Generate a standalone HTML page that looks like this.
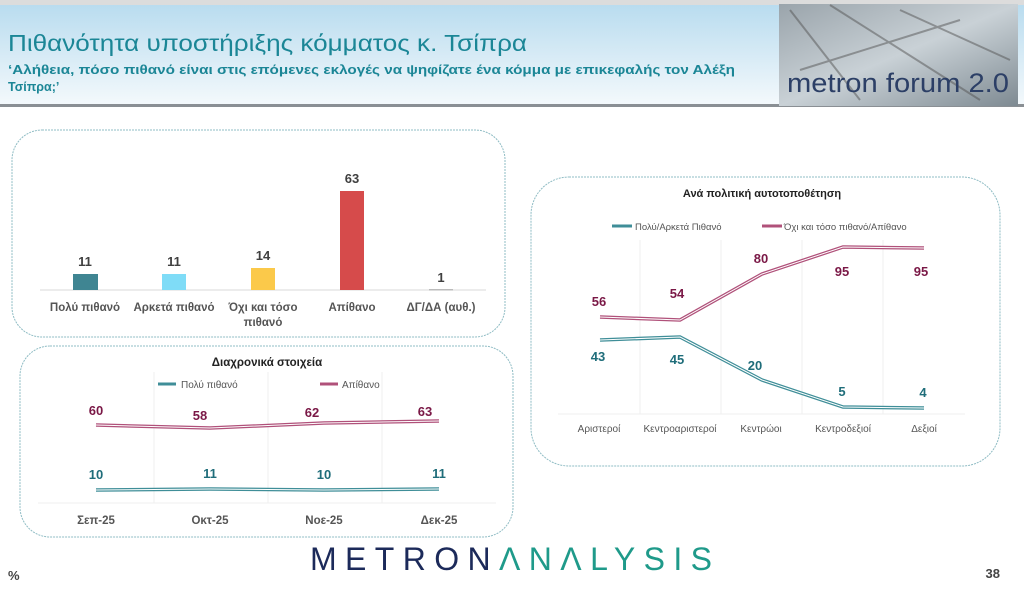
<!DOCTYPE html>
<html><head><meta charset="utf-8"><style>
body{margin:0;width:1024px;height:586px;overflow:hidden;background:#fff;font-family:"Liberation Sans","DejaVu Sans",sans-serif}
</style></head><body>
<svg width="1024" height="586" xmlns="http://www.w3.org/2000/svg" font-family="Liberation Sans, DejaVu Sans, sans-serif">
<defs>
<linearGradient id="hg" x1="0" y1="0" x2="0" y2="1"><stop offset="0" stop-color="#b9dcef"/><stop offset="1" stop-color="#f4f9fc"/></linearGradient>
<linearGradient id="ig" x1="0" y1="0" x2="1" y2="1"><stop offset="0" stop-color="#9aa4ab"/><stop offset="0.5" stop-color="#c9d1d6"/><stop offset="1" stop-color="#7e8a92"/></linearGradient>
</defs>
<rect x="0" y="0" width="1024" height="5" fill="#dcdcdc"/>
<rect x="0" y="5" width="1024" height="100" fill="url(#hg)"/>
<rect x="0" y="104" width="1024" height="3" fill="#8a8f94"/>
<rect x="779" y="4" width="239" height="102" fill="url(#ig)"/>
<path d="M790 10 L860 100 M830 5 L980 100 M900 10 L1010 60 M800 70 L960 20" stroke="#555" stroke-width="2" opacity="0.5"/>
<text x="787" y="92" font-size="27" fill="#2c3f66" textLength="222" lengthAdjust="spacingAndGlyphs">metron forum 2.0</text>
<text x="8" y="51" font-size="23" fill="#1b8696" textLength="519" lengthAdjust="spacingAndGlyphs">Πιθανότητα υποστήριξης κόμματος κ. Τσίπρα</text>
<text x="8" y="74" font-size="12.5" font-weight="bold" fill="#1b8696" textLength="727" lengthAdjust="spacingAndGlyphs">‘Αλήθεια, πόσο πιθανό είναι στις επόμενες εκλογές να ψηφίζατε ένα κόμμα με επικεφαλής τον Αλέξη</text>
<text x="8" y="91" font-size="12.5" font-weight="bold" fill="#1b8696">Τσίπρα;’</text>

<rect x="12" y="130" width="493" height="207" rx="30" fill="none" stroke="#8fbcc4" stroke-dasharray="2 1"/>
<line x1="40" y1="290" x2="486" y2="290" stroke="#d9d9d9"/>
<g font-weight="bold" font-size="13" fill="#404040" text-anchor="middle">
<rect x="73" y="274" width="25" height="16" fill="#3f8592"/><text x="85" y="266">11</text>
<rect x="162" y="274" width="24" height="16" fill="#7fdcf7"/><text x="174" y="266">11</text>
<rect x="251" y="268" width="24" height="22" fill="#fbc94a"/><text x="263" y="260">14</text>
<rect x="340" y="191" width="24" height="99" fill="#d64b4b"/><text x="352" y="183">63</text>
<rect x="429" y="289" width="24" height="1.5" fill="#bbb"/><text x="441" y="282">1</text>
<g font-size="11.5" fill="#555"><text x="85" y="311">Πολύ πιθανό</text><text x="174" y="311">Αρκετά πιθανό</text><text x="263" y="311">Όχι και τόσο</text><text x="263" y="326">πιθανό</text><text x="352" y="311">Απίθανο</text><text x="441" y="311">ΔΓ/ΔΑ (αυθ.)</text></g>
</g>

<rect x="20" y="346" width="493" height="191" rx="30" fill="none" stroke="#8fbcc4" stroke-dasharray="2 1"/>
<g stroke="#efefef"><line x1="154" y1="372" x2="154" y2="503"/><line x1="268" y1="372" x2="268" y2="503"/><line x1="382" y1="372" x2="382" y2="503"/><line x1="38" y1="503" x2="496" y2="503"/></g>
<text x="267" y="366" font-size="11.5" font-weight="bold" fill="#222" text-anchor="middle">Διαχρονικά στοιχεία</text>
<line x1="158" y1="384" x2="176" y2="384" stroke="#3f8e98" stroke-width="3"/><text x="181" y="388" font-size="10" fill="#555">Πολύ πιθανό</text>
<line x1="320" y1="384" x2="338" y2="384" stroke="#b0517a" stroke-width="3"/><text x="342" y="388" font-size="10" fill="#555">Απίθανο</text>
<polyline points="96,425 210,428 324,423 439,421" fill="none" stroke="#b0517a" stroke-width="3.5"/>
<polyline points="96,425 210,428 324,423 439,421" fill="none" stroke="#fff" stroke-width="1"/>
<polyline points="96,490 210,489 324,490 439,489" fill="none" stroke="#3f8e98" stroke-width="3.5"/>
<polyline points="96,490 210,489 324,490 439,489" fill="none" stroke="#fff" stroke-width="1"/>
<g font-size="13" font-weight="bold" text-anchor="middle">
<g fill="#7a1846"><text x="96" y="415">60</text><text x="200" y="420">58</text><text x="312" y="417">62</text><text x="425" y="416">63</text></g>
<g fill="#1f6d7a"><text x="96" y="479">10</text><text x="210" y="478">11</text><text x="324" y="479">10</text><text x="439" y="478">11</text></g>
<g font-size="11.5" fill="#555"><text x="96" y="524">Σεπ-25</text><text x="210" y="524">Οκτ-25</text><text x="324" y="524">Νοε-25</text><text x="439" y="524">Δεκ-25</text></g>
</g>

<rect x="531" y="177" width="469" height="289" rx="38" fill="none" stroke="#8fbcc4" stroke-dasharray="2 1"/>
<g stroke="#efefef"><line x1="640" y1="240" x2="640" y2="414"/><line x1="721" y1="240" x2="721" y2="414"/><line x1="802" y1="240" x2="802" y2="414"/><line x1="883" y1="240" x2="883" y2="414"/><line x1="558" y1="414" x2="965" y2="414"/></g>
<text x="762" y="197" font-size="11" font-weight="bold" fill="#222" text-anchor="middle">Ανά πολιτική αυτοτοποθέτηση</text>
<line x1="612" y1="226" x2="632" y2="226" stroke="#3f8e98" stroke-width="3"/><text x="635" y="230" font-size="9.5" fill="#555">Πολύ/Αρκετά Πιθανό</text>
<line x1="762" y1="226" x2="782" y2="226" stroke="#b0517a" stroke-width="3"/><text x="784" y="230" font-size="9.5" fill="#555">Όχι και τόσο πιθανό/Απίθανο</text>
<polyline points="600,317 680,320 762,274 843,247 924,248" fill="none" stroke="#b0517a" stroke-width="3.5"/>
<polyline points="600,317 680,320 762,274 843,247 924,248" fill="none" stroke="#fff" stroke-width="1"/>
<polyline points="600,340 680,337 762,380 843,407 924,408" fill="none" stroke="#3f8e98" stroke-width="3.5"/>
<polyline points="600,340 680,337 762,380 843,407 924,408" fill="none" stroke="#fff" stroke-width="1"/>
<g font-size="13" font-weight="bold" text-anchor="middle">
<g fill="#7a1846"><text x="599" y="306">56</text><text x="677" y="298">54</text><text x="761" y="263">80</text><text x="842" y="276">95</text><text x="921" y="276">95</text></g>
<g fill="#1f6d7a"><text x="598" y="361">43</text><text x="677" y="364">45</text><text x="755" y="370">20</text><text x="842" y="396">5</text><text x="923" y="397">4</text></g>
<g font-size="10" font-weight="normal" fill="#555"><text x="599" y="432">Αριστεροί</text><text x="680" y="432">Κεντροαριστεροί</text><text x="761" y="432">Κεντρώοι</text><text x="843" y="432">Κεντροδεξιοί</text><text x="924" y="432">Δεξιοί</text></g>
</g>

<text x="310" y="570" font-size="32" fill="#1c2a5a" textLength="402" lengthAdjust="spacing">METRON<tspan fill="#1f9a8a">ΛNΛLYSIS</tspan></text>
<text x="8" y="580" font-size="13" font-weight="bold" fill="#444">%</text>
<text x="1000" y="578" font-size="13" font-weight="bold" fill="#444" text-anchor="end">38</text>
</svg>
</body></html>
